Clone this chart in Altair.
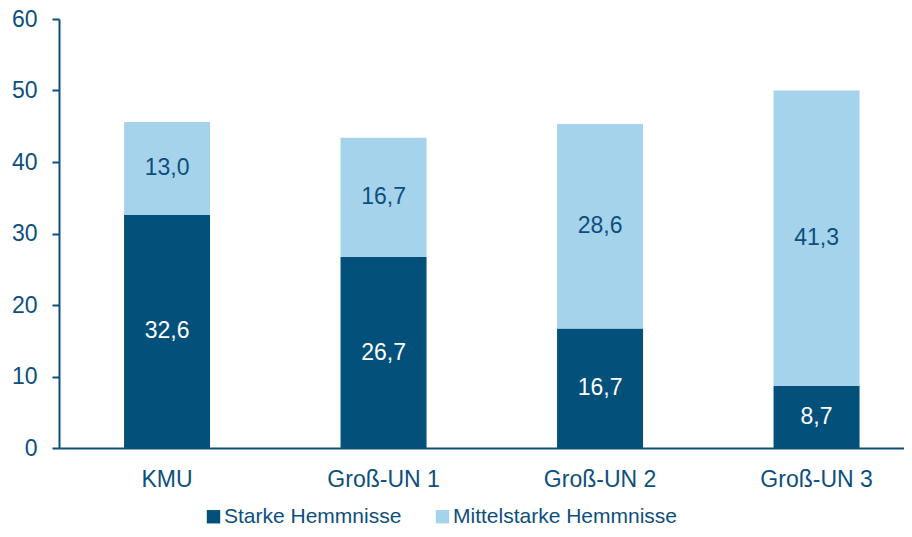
import altair as alt
import pandas as pd

categories = ["KMU", "Groß-UN 1", "Groß-UN 2", "Groß-UN 3"]
series = ["Starke Hemmnisse", "Mittelstarke Hemmnisse"]
starke = [32.6, 26.7, 16.7, 8.7]
mittel = [13.0, 16.7, 28.6, 41.3]
y_ticks = [0, 10, 20, 30, 40, 50, 60]

DARK = "#03507b"
LIGHT = "#a6d3ec"
TEXT = "#0d4f7c"
FONT = "Liberation Sans"

rows = []
for c, s, m in zip(categories, starke, mittel):
    rows.append({"cat": c, "series": series[0], "order": 0, "y0": 0, "y1": s, "mid": s / 2,
                 "label": f"{s:.1f}".replace(".", ","), "tc": "white"})
    rows.append({"cat": c, "series": series[1], "order": 1, "y0": s, "y1": s + m, "mid": s + m / 2,
                 "label": f"{m:.1f}".replace(".", ","), "tc": "dark"})
df = pd.DataFrame(rows)

x = alt.X("cat:N", sort=categories, title=None,
          scale=alt.Scale(paddingInner=0.603, paddingOuter=0.253, align=0.594),
          axis=alt.Axis(labelAngle=0, labelFont=FONT, labelFontSize=23, labelColor=TEXT,
                        ticks=False, labelPadding=20, domainColor=TEXT, domainWidth=2))
y_scale = alt.Scale(domain=[0, 60], nice=False)

bars = alt.Chart(df).mark_bar(size=86).encode(
    x=x,
    y=alt.Y("y0:Q", scale=y_scale, title=None,
            axis=alt.Axis(values=y_ticks, grid=False, labelFont=FONT, labelFontSize=23,
                          labelColor=TEXT, tickColor=TEXT, tickSize=7, tickWidth=2,
                          domainColor=TEXT, domainWidth=2, labelPadding=15)),
    y2="y1:Q",
    color=alt.Color("series:N", sort=series,
                    scale=alt.Scale(domain=series, range=[DARK, LIGHT]),
                    legend=alt.Legend(title=None, orient="none", direction="horizontal",
                                      legendX=144, legendY=487, padding=0,
                                      symbolType="square", symbolSize=180, symbolStrokeWidth=0,
                                      symbolOpacity=1, labelLimit=0,
                                      labelFont=FONT, labelFontSize=21, labelColor=TEXT,
                                      labelOffset=0, columnPadding=30)),
)

text = alt.Chart(df).mark_text(font=FONT, fontSize=23, baseline="middle").encode(
    x=alt.X("cat:N", sort=categories),
    y=alt.Y("mid:Q", scale=y_scale),
    text="label:N",
    color=alt.Color("tc:N", scale=alt.Scale(domain=["white", "dark"], range=["#ffffff", TEXT]),
                    legend=None),
)

chart = alt.layer(bars, text).resolve_scale(color="independent").properties(
    width=845, height=429,
    autosize=alt.AutoSizeParams(type="none"),
    padding={"left": 51, "top": 11, "right": 0, "bottom": 81},
).configure_view(stroke=None)

chart.save("out.html", embed_options={"renderer": "svg", "actions": False})
